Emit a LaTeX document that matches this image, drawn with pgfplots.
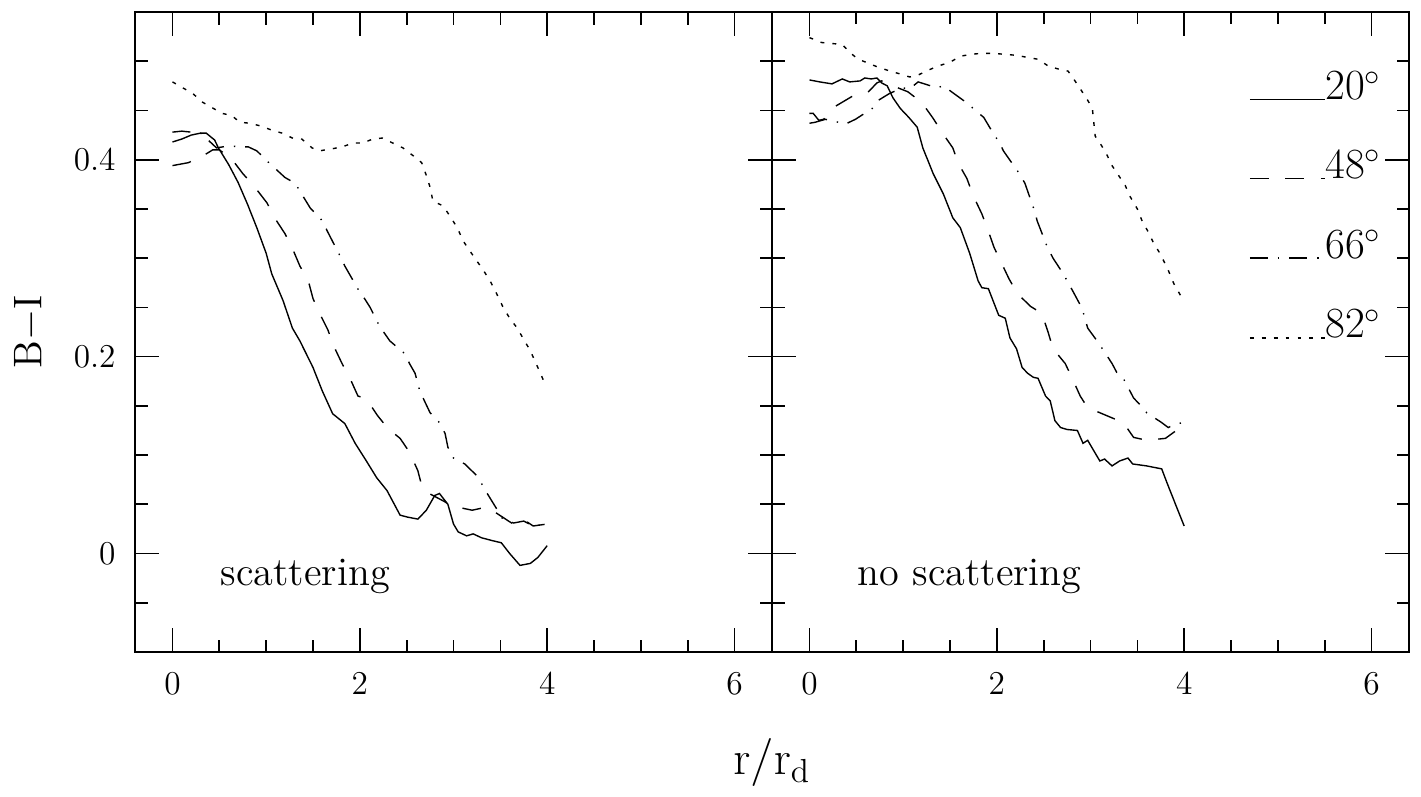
\documentclass[border=0pt]{standalone}
\usepackage{pgfplots}
\pgfplotsset{compat=1.18}
\tikzset{txt/.style={font=\fontsize{14.5}{17}\selectfont, anchor=base west, inner sep=0pt}}
\begin{document}
\begin{tikzpicture}
\pgfplotsset{
  panel/.style={
    width=229.3pt, height=230.4pt, scale only axis,
    xmin=-0.4, xmax=6.4, ymin=-0.1, ymax=0.55,
    xtick={0,2,4,6}, minor xtick={0.5,1,1.5,2.5,3,3.5,4.5,5,5.5},
    ytick={0,0.2,0.4}, minor ytick={-0.05,0.05,0.1,0.15,0.25,0.3,0.35,0.45,0.5},
    tick align=inside, major tick length=8.8pt, minor tick length=4.5pt,
    tick style={black, line width=0.6pt},
    axis line style={line width=0.7pt},
    tick label style={font=\fontsize{13}{15}\selectfont},
    xticklabel style={yshift=-4.2pt}, yticklabel style={xshift=-3.5pt},
    clip=false,
  },
  s20/.style={black, line width=0.5pt},
  s48/.style={black, line width=0.5pt, dash pattern=on 6.8pt off 6pt},
  s66/.style={black, line width=0.5pt, dash pattern=on 6.5pt off 3.6pt on 0.5pt off 3.6pt},
  s82/.style={black, line width=0.5pt, dash pattern=on 1.4pt off 2.9pt},
}
% left panel: scattering
\begin{axis}[panel, name=L,
  ylabel={$\mathrm{B}{-}\mathrm{I}$},
  ylabel style={at={(axis description cs:-0.166,0.5)}, anchor=center, font=\fontsize{15}{17}\selectfont},
  xlabel={$\mathrm{r}/\mathrm{r}_\mathrm{d}$},
  xlabel style={at={(axis description cs:1,-0.192)}, anchor=base, font=\fontsize{18}{20}\selectfont},
]
\addplot[s20] coordinates {
(0,0.418)(0.1,0.421)(0.2,0.425)(0.3,0.427)(0.36,0.427)(0.45,0.420)(0.49,0.412)
(0.6,0.395)(0.7,0.377)(0.8,0.355)(0.9,0.331)(1.0,0.305)(1.06,0.284)(1.18,0.257)
(1.28,0.229)(1.36,0.216)(1.5,0.189)(1.6,0.165)(1.71,0.142)(1.84,0.132)(1.95,0.112)
(2.07,0.094)(2.18,0.077)(2.29,0.064)(2.43,0.039)(2.51,0.037)(2.62,0.035)(2.71,0.044)
(2.8,0.059)(2.85,0.061)(2.94,0.05)(3.0,0.03)(3.05,0.022)(3.14,0.018)(3.21,0.020)
(3.30,0.016)(3.42,0.013)(3.51,0.011)(3.60,0.000)(3.71,-0.012)(3.82,-0.010)
(3.90,-0.004)(4.0,0.008)};
\addplot[s48] coordinates {
(0,0.394)(0.17,0.397)(0.31,0.403)(0.43,0.410)(0.5,0.41)(0.63,0.401)(0.75,0.386)
(0.88,0.372)(1.01,0.356)(1.09,0.341)(1.2,0.325)(1.28,0.310)(1.36,0.292)(1.45,0.277)
(1.5,0.259)(1.57,0.244)(1.66,0.227)(1.71,0.213)(1.81,0.193)(1.89,0.179)(1.98,0.160)
(2.07,0.157)(2.19,0.140)(2.30,0.127)(2.43,0.117)(2.53,0.103)(2.62,0.084)(2.66,0.069)
(2.72,0.062)(2.8,0.058)(2.9,0.053)(3.0,0.047)(3.1,0.046)(3.2,0.044)(3.34,0.047)
(3.46,0.041)(3.62,0.031)(3.74,0.035)(3.85,0.028)(4.0,0.030)};
\addplot[s66] coordinates {
(0,0.428)(0.1,0.429)(0.2,0.428)(0.3,0.427)(0.38,0.420)(0.47,0.412)(0.6,0.414)
(0.75,0.413)(0.81,0.413)(0.9,0.409)(1.04,0.396)(1.2,0.382)(1.31,0.376)(1.38,0.365)
(1.47,0.351)(1.6,0.338)(1.65,0.328)(1.79,0.302)(1.84,0.292)(1.99,0.267)(2.05,0.259)
(2.11,0.250)(2.21,0.231)(2.32,0.216)(2.48,0.203)(2.53,0.193)(2.59,0.183)(2.64,0.165)
(2.69,0.155)(2.75,0.143)(2.85,0.133)(2.91,0.122)(2.94,0.108)(3.0,0.097)(3.12,0.091)
(3.25,0.079)(3.30,0.071)(3.36,0.061)(3.47,0.044)(3.52,0.036)(3.64,0.031)(3.75,0.033)
(3.85,0.028)(4.0,0.030)};
\addplot[s82] coordinates {
(0,0.479)(0.11,0.473)(0.22,0.467)(0.31,0.459)(0.42,0.453)(0.53,0.447)(0.63,0.445)
(0.72,0.438)(0.83,0.437)(0.95,0.434)(1.06,0.430)(1.17,0.427)(1.28,0.422)(1.38,0.421)
(1.49,0.412)(1.57,0.409)(1.70,0.411)(1.81,0.413)(1.93,0.417)(2.03,0.417)(2.14,0.421)
(2.24,0.422)(2.35,0.417)(2.46,0.412)(2.57,0.404)(2.66,0.397)(2.71,0.384)(2.75,0.372)
(2.78,0.358)(2.89,0.353)(2.96,0.343)(3.04,0.331)(3.10,0.318)(3.17,0.308)(3.25,0.297)
(3.31,0.289)(3.39,0.277)(3.46,0.264)(3.53,0.250)(3.60,0.239)(3.68,0.229)(3.74,0.219)
(3.82,0.206)(3.90,0.189)(3.96,0.176)(4.0,0.172)};
\node[txt] at (axis cs:0.51,-0.0325) {scattering};
\end{axis}
% right panel: no scattering
\begin{axis}[panel, name=R, at={(L.south east)}, anchor=south west, yticklabels={}]
\addplot[s20] coordinates {
(0,0.481)(0.11,0.479)(0.24,0.477)(0.35,0.482)(0.43,0.479)(0.54,0.480)(0.59,0.483)
(0.66,0.482)(0.72,0.483)(0.77,0.478)(0.83,0.475)(0.89,0.463)(0.97,0.452)(1.06,0.443)
(1.15,0.433)(1.21,0.412)(1.32,0.386)(1.43,0.365)(1.53,0.341)(1.61,0.331)(1.71,0.305)
(1.80,0.277)(1.84,0.270)(1.91,0.269)(2.02,0.242)(2.09,0.239)(2.14,0.219)(2.21,0.208)
(2.27,0.189)(2.33,0.183)(2.39,0.179)(2.44,0.178)(2.52,0.160)(2.57,0.155)(2.62,0.135)
(2.68,0.128)(2.75,0.126)(2.86,0.125)(2.92,0.112)(2.97,0.115)(3.05,0.102)(3.10,0.094)
(3.15,0.096)(3.23,0.089)(3.31,0.094)(3.40,0.097)(3.45,0.091)(3.60,0.089)(3.76,0.086)
(3.82,0.071)(3.92,0.047)(4.0,0.028)};
\addplot[s48] coordinates {
(0,0.447)(0.04,0.447)(0.1,0.440)(0.15,0.441)(0.2,0.446)(0.29,0.455)(0.45,0.464)
(0.62,0.468)(0.72,0.478)(0.77,0.480)(0.89,0.475)(1.05,0.469)(1.2,0.458)(1.32,0.442)
(1.42,0.427)(1.53,0.412)(1.59,0.396)(1.68,0.381)(1.75,0.363)(1.84,0.345)(1.90,0.330)
(1.97,0.311)(2.04,0.297)(2.13,0.279)(2.22,0.264)(2.36,0.251)(2.48,0.244)(2.55,0.224)
(2.60,0.208)(2.73,0.193)(2.80,0.179)(2.89,0.160)(2.97,0.148)(3.05,0.145)(3.2,0.139)
(3.35,0.133)(3.46,0.118)(3.6,0.115)(3.8,0.117)(3.93,0.126)(4.0,0.125)};
\addplot[s66] coordinates {
(0,0.437)(0.06,0.438)(0.17,0.441)(0.31,0.438)(0.38,0.436)(0.49,0.441)(0.67,0.452)
(0.73,0.460)(0.85,0.467)(0.99,0.473)(1.07,0.472)(1.16,0.479)(1.36,0.473)(1.43,0.475)
(1.53,0.468)(1.69,0.457)(1.77,0.450)(1.86,0.443)(1.96,0.427)(2.03,0.417)(2.07,0.409)
(2.18,0.394)(2.24,0.386)(2.30,0.376)(2.41,0.346)(2.43,0.338)(2.54,0.311)(2.60,0.300)
(2.71,0.284)(2.82,0.265)(2.91,0.249)(2.97,0.229)(3.07,0.216)(3.12,0.209)(3.23,0.193)
(3.28,0.184)(3.35,0.178)(3.46,0.158)(3.52,0.152)(3.60,0.143)(3.76,0.133)(3.83,0.128)
(3.92,0.132)(4.0,0.133)};
\addplot[s82] coordinates {
(0,0.524)(0.13,0.519)(0.24,0.518)(0.35,0.517)(0.43,0.509)(0.52,0.502)(0.63,0.498)
(0.73,0.494)(0.86,0.490)(0.97,0.487)(1.07,0.484)(1.16,0.486)(1.27,0.491)(1.37,0.495)
(1.50,0.499)(1.61,0.505)(1.72,0.507)(1.84,0.508)(1.96,0.508)(2.09,0.507)(2.21,0.506)
(2.32,0.504)(2.44,0.502)(2.55,0.495)(2.66,0.492)(2.76,0.490)(2.82,0.482)(2.89,0.472)
(2.96,0.462)(3.02,0.452)(3.05,0.424)(3.12,0.414)(3.18,0.404)(3.23,0.394)(3.30,0.384)
(3.37,0.374)(3.42,0.363)(3.50,0.350)(3.55,0.338)(3.62,0.326)(3.67,0.316)(3.74,0.305)
(3.82,0.290)(3.89,0.274)(3.98,0.259)};
% legend
\addplot[s20] coordinates {(4.7,0.461)(5.5,0.461)};
\addplot[s48] coordinates {(4.7,0.381)(5.5,0.381)};
\addplot[s66] coordinates {(4.7,0.300)(5.5,0.300)};
\addplot[s82] coordinates {(4.7,0.219)(5.5,0.219)};
\node[txt, font=\fontsize{15.5}{18}\selectfont] at (axis cs:5.5,0.461) {20$^\circ$};
\node[txt, font=\fontsize{15.5}{18}\selectfont] at (axis cs:5.5,0.381) {48$^\circ$};
\node[txt, font=\fontsize{15.5}{18}\selectfont] at (axis cs:5.5,0.300) {66$^\circ$};
\node[txt, font=\fontsize{15.5}{18}\selectfont] at (axis cs:5.5,0.219) {82$^\circ$};
\node[txt] at (axis cs:0.51,-0.0325) {no scattering};
\end{axis}
\path ([xshift=-48.6pt,yshift=-51.84pt]L.south west) rectangle ([xshift=4.32pt,yshift=4.32pt]R.north east);
\end{tikzpicture}
\end{document}
